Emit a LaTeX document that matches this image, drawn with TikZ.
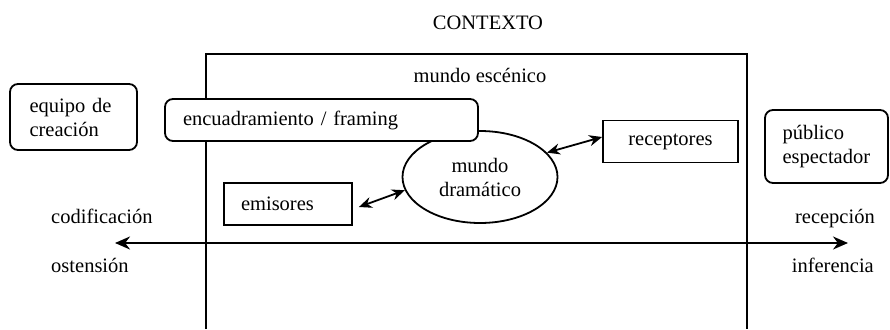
\documentclass[tikz,border=0pt]{standalone}
\usepackage{fontspec}
\setmainfont{Liberation Serif}
\usetikzlibrary{arrows.meta,shapes.geometric}
\begin{document}
\begin{tikzpicture}[x=1pt,y=-1pt,>={Stealth[length=13pt,width=11pt]},line width=1.8pt,
  font=\fontsize{20.5}{24}\selectfont,
  caja/.style={draw,fill=white,inner ysep=0pt,minimum height=42pt},
  redonda/.style={draw,fill=white,rounded corners=8pt,align=left,inner ysep=0pt}]
\useasboundingbox (0,0) rectangle (890,329);
\node[anchor=base] (ctx) at (488,30){CONTEXTO};
\draw (206,329) |- (747,54) -- (747,329);
\node[anchor=base] (esc) at (480,82){mundo escénico};

\node[redonda,minimum width=127pt,minimum height=66pt,text width=88pt,inner xsep=19.5pt] (equipo) at (73.5,117){equipo de\\creación};
\node[redonda,minimum width=123pt,minimum height=73pt,text width=88pt,inner xsep=17.5pt] (publico) at (826.5,146.5){público\\espectador};

\node[ellipse,draw,minimum width=155pt,minimum height=92pt,align=center,inner sep=0pt] (drama) at (480,177){mundo\\dramático};
\node[redonda,minimum width=313pt,minimum height=42pt,text width=277pt,inner xsep=18pt] (marco) at (321.5,120){encuadramiento / framing};
\node[caja,minimum width=135pt] (recep) at (670.5,141.5){receptores};
\node[caja,minimum width=128pt,text width=94pt,inner xsep=17pt,align=left] (emis) at (288,204){emisores};

\draw[<->] ([shift={(6,3)}]emis.east) -- (drama.190);
\draw[<->] (drama.20) -- ([yshift=4.5pt]recep.west);

\coordinate (izq) at (115,243);
\coordinate (der) at (848,243);
\draw[line width=2.2pt,{Stealth[length=15pt,width=13pt]}-{Stealth[length=15pt,width=13pt]}] (izq) -- (der);
\node[anchor=base west] (cod) at (47,223){codificación};
\node[anchor=base west] (ost) at (47,272){ostensión};
\node[anchor=base east] (rec) at (879,223){recepción};
\node[anchor=base east] (inf) at (878,272){inferencia};
\end{tikzpicture}
\end{document}
